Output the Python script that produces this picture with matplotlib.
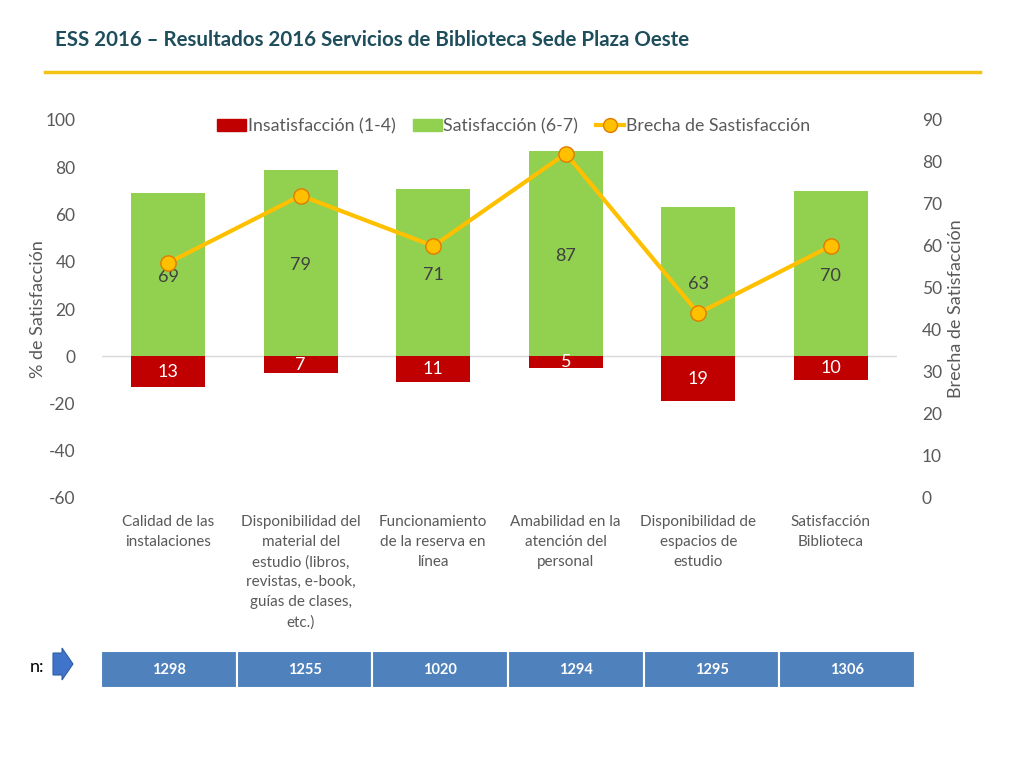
import matplotlib
matplotlib.use('Agg')
import matplotlib.pyplot as plt
from matplotlib.patches import Patch, Rectangle, Polygon
from matplotlib.lines import Line2D
import numpy as np

plt.rcParams['font.family'] = ['Lato', 'DejaVu Sans']
plt.rcParams['axes.unicode_minus'] = False

# datos
categorias = ['Calidad de las\ninstalaciones',
              'Disponibilidad del\nmaterial del\nestudio (libros,\nrevistas, e-book,\nguías de clases,\netc.)',
              'Funcionamiento\nde la reserva en\nlínea',
              'Amabilidad en la\natención del\npersonal',
              'Disponibilidad de\nespacios de\nestudio',
              'Satisfacción\nBiblioteca']
satisfaccion = [69, 79, 71, 87, 63, 70]
insatisfaccion = [13, 7, 11, 5, 19, 10]
brecha = [56, 72, 60, 82, 44, 60]
n_valores = [1298, 1255, 1020, 1294, 1295, 1306]

verde = '#92D050'
rojo = '#C00000'
amarillo = '#FFC000'
gris = '#595959'

W, H = 1024, 768
fig = plt.figure(figsize=(W / 100, H / 100), dpi=100)

# titulo y linea dorada
fig.text(55 / W, 1 - 40 / H, 'ESS 2016 – Resultados 2016 Servicios de Biblioteca Sede Plaza Oeste',
         fontsize=14.8, fontweight='bold', color='#1E4E5C', va='center', ha='left')
fig.add_artist(Line2D([45 / W, 980 / W], [1 - 72 / H, 1 - 72 / H], color='#F2C314', lw=2.5))

ax = fig.add_axes([102 / W, 1 - 498 / H, 795 / W, 378 / H])
x = np.arange(len(categorias))
ancho = 0.56
ax.bar(x, satisfaccion, ancho, color=verde, zorder=2)
ax.bar(x, [-v for v in insatisfaccion], ancho, color=rojo, zorder=2)
ax.axhline(0, color='#D9D9D9', lw=1, zorder=1)

for i in range(len(x)):
    ax.text(x[i], satisfaccion[i] / 2 - 1, str(satisfaccion[i]), ha='center', va='center',
            fontsize=13, color='#404040', zorder=3)
    ax.text(x[i], -insatisfaccion[i] / 2, str(insatisfaccion[i]), ha='center', va='center',
            fontsize=13, color='white', zorder=3)

ax.set_xlim(-0.5, len(x) - 0.5)
ax.set_ylim(-60, 100)
ax.set_yticks(range(-60, 101, 20))
ax.set_xticks(x)
ax.set_xticklabels(categorias, fontsize=11, color=gris, linespacing=1.55, va='top')
ax.tick_params(axis='y', length=0, pad=19, labelsize=12.5, labelcolor=gris)
ax.tick_params(axis='x', length=0, pad=12)
for s in ax.spines.values():
    s.set_visible(False)
ax.set_ylabel('% de Satisfacción', fontsize=13, color=gris)
ax.yaxis.set_label_coords(-0.07, 0.5)

ax2 = ax.twinx()
ax2.plot(x, brecha, color=amarillo, lw=3, marker='o', markersize=11,
         markerfacecolor=amarillo, markeredgecolor='#E07B00', markeredgewidth=1, zorder=4)
ax2.set_ylim(0, 90)
ax2.set_yticks(range(0, 91, 10))
ax2.tick_params(axis='y', length=0, pad=18, labelsize=12.5, labelcolor=gris)
for s in ax2.spines.values():
    s.set_visible(False)
ax2.set_ylabel('Brecha de Satisfacción', fontsize=13, color=gris, labelpad=4)

handles = [Patch(color=rojo), Patch(color=verde),
           Line2D([], [], color=amarillo, lw=3, marker='o', markersize=10,
                  markerfacecolor=amarillo, markeredgecolor='#E07B00')]
leg = ax2.legend(handles, ['Insatisfacción (1-4)', 'Satisfacción (6-7)', 'Brecha de Sastisfacción'],
                 loc='center', bbox_to_anchor=(0.518, 0.984), ncol=3, frameon=False,
                 fontsize=12.8, handlelength=1.6, handletextpad=0.1, columnspacing=1.0)
for t in leg.get_texts():
    t.set_color(gris)

# tabla de n
ax_t = fig.add_axes([101 / W, 1 - 688 / H, 814 / W, 37 / H])
for i, n in enumerate(n_valores):
    ax_t.add_patch(Rectangle((i, 0), 1, 1, facecolor='#4F81BD', edgecolor='white', lw=1.5))
    ax_t.text(i + 0.5, 0.5, str(n), ha='center', va='center', color='white',
              fontsize=10.5, fontweight='bold')
ax_t.set_xlim(0, len(n_valores))
ax_t.set_ylim(0, 1)
ax_t.axis('off')

fig.text(30 / W, 1 - 667 / H, 'n:', fontsize=13, color='black', va='center', ha='left')
ax_f = fig.add_axes([0, 0, 1, 1], zorder=-1)
ax_f.set_xlim(0, W)
ax_f.set_ylim(H, 0)
ax_f.axis('off')
ax_f.add_patch(Polygon([(53, 653), (62, 653), (62, 648), (73, 664), (62, 680), (62, 675), (53, 675)],
                       closed=True, facecolor='#3F74C8', edgecolor='#2F5FA8', lw=0.8))

fig.savefig('out.png', dpi=100)
